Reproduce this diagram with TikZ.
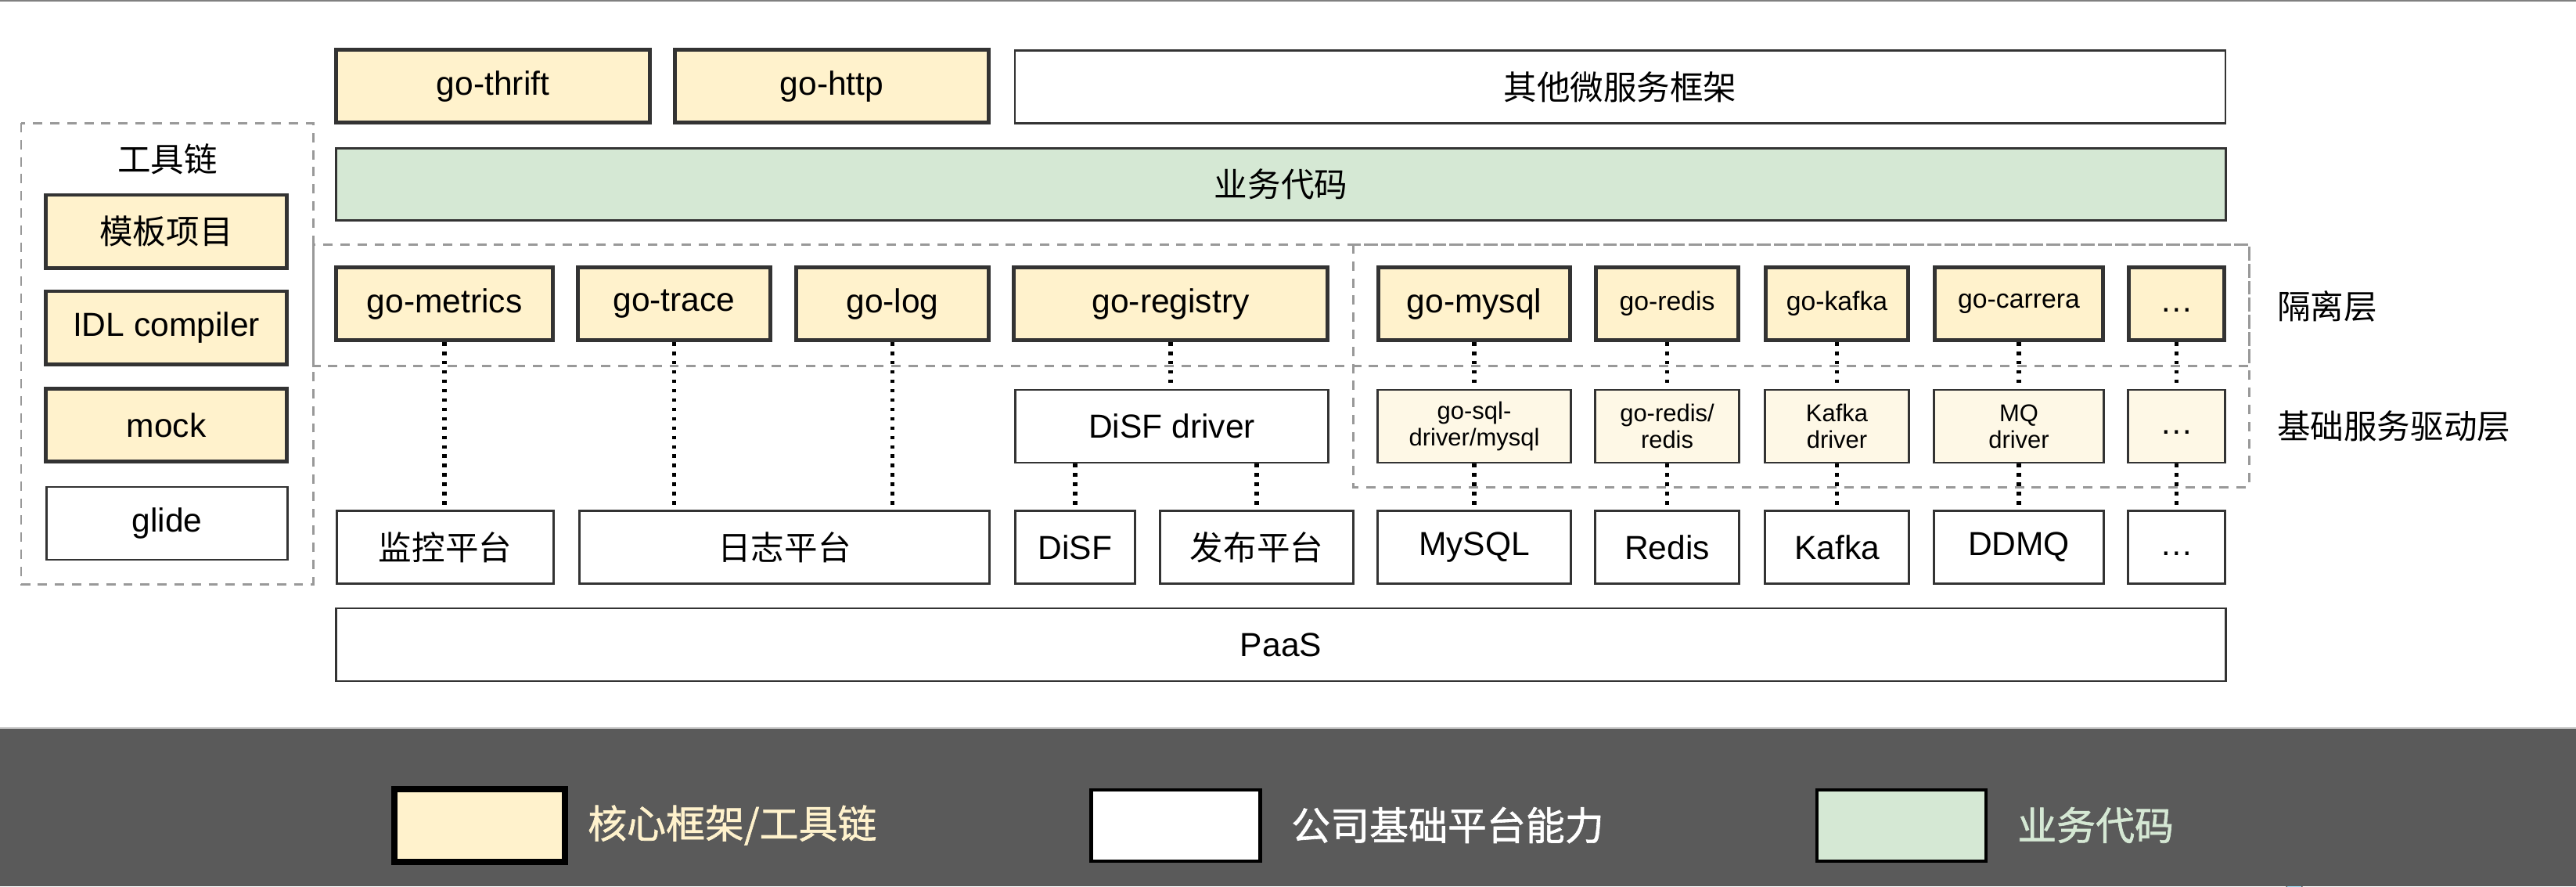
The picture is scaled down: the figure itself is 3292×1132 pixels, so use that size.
\documentclass[tikz,border=0pt]{standalone}
\usepackage{fontspec}
\setmainfont{Liberation Sans}
\newfontfamily\cjk{Noto Sans CJK SC}
\newfontfamily\cjkkey[FakeBold=1.2]{Noto Sans CJK SC}
\definecolor{corefill}{HTML}{FFF2CC}
\definecolor{drvfill}{HTML}{FEF8E6}
\definecolor{bizfill}{HTML}{D5E8D4}
\definecolor{edge}{HTML}{333333}
\definecolor{zonegray}{HTML}{999999}
\definecolor{band}{HTML}{5A5A5A}

\begin{document}
\begin{tikzpicture}[x=0.01cm, y=-0.01cm,
    every node/.style={font=\fontsize{12.1}{14.5}\selectfont, inner sep=1pt},
    core/.style={draw=edge, line width=1.4pt, fill=corefill, minimum height=0.93cm},
    plat/.style={draw=edge, line width=0.8pt, fill=white, minimum height=0.93cm},
    biz/.style={draw=edge, line width=0.9pt, fill=bizfill, minimum height=0.92cm},
    drv/.style={draw=edge, line width=0.8pt, fill=drvfill, minimum height=0.93cm,
        align=center, font=\fontsize{8.8}{9.6}\selectfont},
    small/.style={font=\fontsize{9.6}{11}\selectfont},
    zone/.style={draw=zonegray, line width=0.85pt, dash pattern=on 3.4pt off 2.8pt},
    dotlink/.style={draw=black, line width=1.5pt, dash pattern=on 1.3pt off 2.1pt},
    keybox/.style={draw=black, fill=#1, minimum width=2.16cm, minimum height=0.91cm, inner sep=0pt},
    keytext/.style={anchor=west, text=#1, font=\fontsize{14.2}{17}\selectfont\cjkkey}]
    \useasboundingbox (0,0) rectangle (3292,1132);
    \fill[white] (0,0) rectangle (3292,930);
    \fill[band] (0,930) rectangle (3292,1132);
    \draw[gray, line width=0.5pt] (0,1) -- (3292,1);
    \draw[black!25, line width=0.4pt] (0,930) -- (3292,930);

    \draw[zone] (27,157) rectangle (400,746);
    \draw[zone] (400,312) rectangle (2874,467);
    \draw[zone] (1729,312) rectangle (2874,622);

    \node[core, minimum width=4.01cm] (thrift) at (630,110) {go-thrift};
    \node[core, minimum width=4.01cm] (http) at (1063,110) {go-http};
    \node[plat, minimum width=15.46cm] (others) at (2070.5,111) {\cjk 其他微服务框架};
    \node[biz, minimum width=24.13cm] (bizcode) at (1637,235.5) {\cjk 业务代码};

    \node (tools) at (214,203) {\cjk 工具链};
    \node[core, minimum width=3.08cm] (tmpl) at (212.5,295.5) {\cjk 模板项目};
    \node[core, minimum width=3.08cm] (idl) at (212.5,418.5) {IDL compiler};
    \node[core, minimum width=3.08cm] (mock) at (212.5,543) {mock};
    \node[plat, minimum width=3.08cm] (glide) at (213.5,668.5) {glide};

    \node[core, minimum width=2.77cm] (metrics) at (568,388) {go-metrics};
    \node[core, minimum width=2.46cm] (trace) at (861.5,388) {go-trace};
    \node[core, minimum width=2.46cm] (log) at (1140.5,388) {go-log};
    \node[core, minimum width=4.01cm] (registry) at (1496,388) {go-registry};
    \node[core, minimum width=2.45cm] (imysql) at (1884,388) {go-mysql};
    \node[core, small, minimum width=1.82cm] (iredis) at (2130.5,388) {go-redis};
    \node[core, small, minimum width=1.82cm] (ikafka) at (2347.5,388) {go-kafka};
    \node[core, small, minimum width=2.15cm] (icarrera) at (2580,388) {go-carrera};
    \node[core, minimum width=1.22cm] (imore) at (2781.5,388) {\vphantom{Ag}…};
    \node[anchor=west] (isolbl) at (2906,391) {\cjk 隔离层};

    \node[plat, minimum width=4.00cm] (disfdrv) at (1497.5,544.5) {DiSF driver};
    \node[drv, minimum width=2.47cm] (dmysql) at (1884,544.5) {go-sql-\\driver/mysql};
    \node[drv, minimum width=1.84cm] (dredis) at (2130.5,544.5) {go-redis/\\redis};
    \node[drv, minimum width=1.84cm] (dkafka) at (2347.5,544.5) {Kafka\\driver};
    \node[drv, minimum width=2.17cm] (dcarrera) at (2580,544.5) {MQ\\driver};
    \node[drv, minimum width=1.24cm, font=\fontsize{12.1}{14.5}\selectfont] (dmore) at (2781.5,544.5) {\vphantom{Ag}…};
    \node[anchor=west] (drvlbl) at (2906,544) {\cjk 基础服务驱动层};

    \node[plat, minimum width=2.77cm] (monitor) at (569,699) {\cjk 监控平台};
    \node[plat, minimum width=5.24cm] (logplat) at (1002.5,699) {\cjk 日志平台};
    \node[plat, minimum width=1.53cm] (disf) at (1374,699) {DiSF};
    \node[plat, minimum width=2.47cm] (publish) at (1606,699) {\cjk 发布平台};
    \node[plat, minimum width=2.47cm] (bmysql) at (1884,699) {MySQL};
    \node[plat, minimum width=1.84cm] (bredis) at (2130.5,699) {Redis};
    \node[plat, minimum width=1.84cm] (bkafka) at (2347.5,699) {Kafka};
    \node[plat, minimum width=2.17cm] (bcarrera) at (2580,699) {DDMQ};
    \node[plat, minimum width=1.24cm] (bmore) at (2781.5,699) {\vphantom{Ag}…};

    \node[plat, minimum width=24.13cm] (paas) at (1637,823.5) {PaaS};

    \draw[dotlink] (metrics.south) -- (metrics.south |- monitor.north);
    \draw[dotlink] (trace.south) -- (trace.south |- logplat.north);
    \draw[dotlink] (log.south) -- (log.south |- logplat.north);
    \draw[dotlink] (registry.south) -- (registry.south |- disfdrv.north);
    \draw[dotlink] (disf.north |- disfdrv.south) -- (disf.north);
    \draw[dotlink] (publish.north |- disfdrv.south) -- (publish.north);
    \foreach \c in {mysql,redis,kafka,carrera,more}{
        \draw[dotlink] (i\c.south) -- (d\c.north);
        \draw[dotlink] (d\c.south) -- (b\c.north);
    }

    \node[keybox=corefill, line width=2.3pt, minimum width=2.18cm, minimum height=0.93cm] (keycore) at (613,1054.5) {};
    \node[keytext=corefill] (keycoretxt) at (747,1054) {核心框架/工具链};
    \node[keybox=white, line width=1.2pt] (keyplat) at (1502.5,1054.5) {};
    \node[keytext=white] (keyplattxt) at (1646,1054) {公司基础平台能力};
    \node[keybox=bizfill, line width=1.2pt] (keybiz) at (2430,1054.5) {};
    \node[keytext=bizfill] (keybiztxt) at (2574,1054) {业务代码};

    \filldraw[fill=cyan!35!white, draw=black!60, line width=0.4pt] (2922,1132) arc (180:0:10 and 6);
\end{tikzpicture}
\end{document}
